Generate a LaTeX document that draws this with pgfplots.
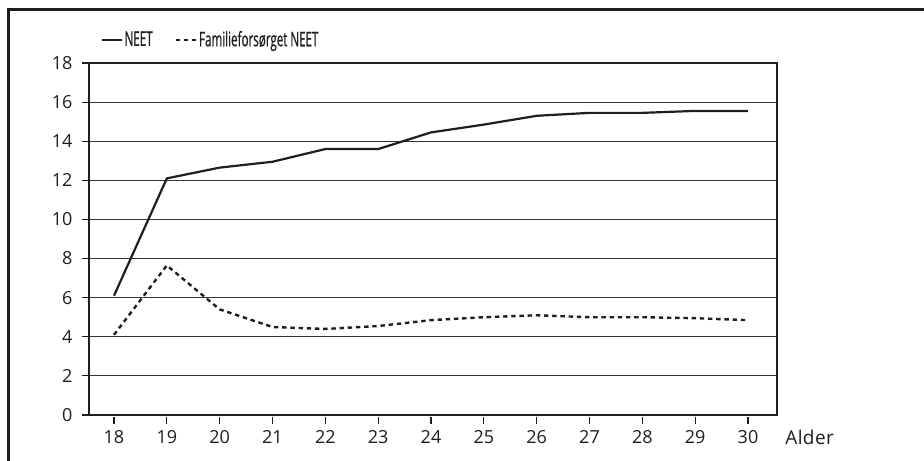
\documentclass[border=0pt]{standalone}
\usepackage{pgfplots}
\pgfplotsset{compat=1.18}
\usepackage{fontspec}
\setmainfont{Open Sans}
\newfontfamily\condfont[FakeStretch=0.58, FakeBold=0.6]{Open Sans}
\newcommand\fs{\fontsize{9pt}{11pt}\selectfont}
\newcommand\lfs{\fontsize{10pt}{12pt}\selectfont}
\definecolor{ink}{HTML}{1E1E1E}
\begin{document}
\begin{tikzpicture}
\useasboundingbox (-44.5pt,-22.5pt) rectangle (417.5pt,207.5pt);
\draw[ink, line width=1.5pt] (-40pt,-40pt) -- (-40pt,202.5pt) -- (417.5pt,202.5pt);
\begin{axis}[
  at={(0pt,0pt)}, anchor=south west,
  scale only axis, width=344pt, height=176pt,
  xmin=17.527, xmax=30.549, ymin=0, ymax=18,
  xtick={18,...,30}, ytick={0,2,...,18},
  tick align=outside, major tick length=3.5pt,
  xtick pos=bottom, ytick pos=left,
  x tick style={yshift=-1pt, ink, line width=0.6pt},
  y tick style={ink, line width=0.6pt},
  ymajorgrids, grid style={black!80, line width=0.5pt},
  axis line style={ink, line width=0.75pt},
  tick label style={font=\fs, text=ink},
  yticklabel style={xshift=-1.2pt},
  xticklabel style={yshift=-0.5pt},
  /pgf/number format/assume math mode=true,
  legend columns=2,
  legend style={draw=none, fill=none, at={(0.016,1.065)}, anchor=west,
    inner sep=0pt, text=ink,
    cells={font=\condfont\lfs},
    /tikz/every even column/.append style={column sep=10pt},
    nodes={inner sep=1pt}},
  legend image code/.code={\draw[#1] (0pt,0pt) -- (10pt,0pt);},
  clip=false,
]
\addplot[ink, line width=1.1pt] coordinates {
(18,6.1) (19,12.1) (20,12.65) (21,12.95) (22,13.6) (23,13.6) (24,14.45)
(25,14.85) (26,15.3) (27,15.45) (28,15.45) (29,15.55) (30,15.55)};
\addlegendentry{\condfont\lfs NEET}
\addplot[ink, line width=1.2pt, dash pattern=on 2.2pt off 1.9pt] coordinates {
(18,4.1) (19,7.65) (20,5.4) (21,4.5) (22,4.4) (23,4.55) (24,4.85)
(25,5.0) (26,5.1) (27,5.0) (28,5.0) (29,4.95) (30,4.85)};
\addlegendentry{\condfont\lfs Familieforsørget NEET}
\end{axis}
\node[anchor=base west, inner sep=0pt, font=\fontsize{9.5pt}{11pt}\selectfont\addfontfeature{LetterSpace=2}, text=ink] at (348pt,-14.8pt) {Alder};
\end{tikzpicture}
\end{document}
